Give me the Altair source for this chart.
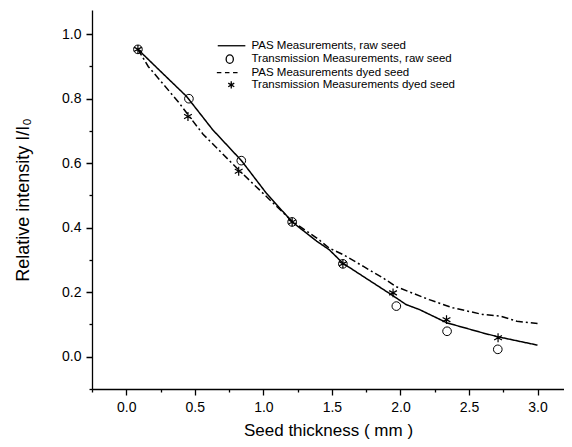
import altair as alt
import pandas as pd

# Series names
s_raw_pas = "PAS Measurements, raw seed"
s_raw_tr = "Transmission Measurements, raw seed"
s_dyed_pas = "PAS Measurements dyed seed"
s_dyed_tr = "Transmission Measurements dyed seed"
series_order = [s_raw_pas, s_raw_tr, s_dyed_pas, s_dyed_tr]

pas_raw_x = [0.085, 0.24, 0.44, 0.63, 0.84, 1.02, 1.21, 1.39, 1.48, 1.58, 1.75, 1.95, 2.04, 2.14, 2.34, 2.60, 2.71, 3.00]
pas_raw_y = [0.953, 0.889, 0.807, 0.704, 0.608, 0.508, 0.418, 0.358, 0.332, 0.290, 0.243, 0.188, 0.162, 0.146, 0.105, 0.074, 0.062, 0.036]

pas_dyed_x = [0.085, 0.16, 0.38, 0.46, 0.56, 0.83, 0.97, 1.21, 1.39, 1.48, 1.58, 1.73, 1.87, 1.97, 2.21, 2.38, 2.60, 2.73, 2.85, 3.00]
pas_dyed_y = [0.953, 0.90, 0.79, 0.745, 0.69, 0.575, 0.518, 0.42, 0.368, 0.337, 0.317, 0.28, 0.245, 0.217, 0.177, 0.152, 0.131, 0.126, 0.11, 0.103]

# Transmission measurements (markers)
tr_raw_x = [0.085, 0.457, 0.839, 1.21, 1.58, 1.97, 2.34, 2.71]
tr_raw_y = [0.953, 0.800, 0.608, 0.418, 0.288, 0.157, 0.079, 0.023]
tr_dyed_x = [0.085, 0.45, 0.82, 1.21, 1.58, 1.946, 2.336, 2.712]
tr_dyed_y = [0.953, 0.745, 0.575, 0.418, 0.288, 0.198, 0.115, 0.059]

# Axis tick values (major + minor)
x_ticks = [-0.25, 0.0, 0.25, 0.5, 0.75, 1.0, 1.25, 1.5, 1.75, 2.0, 2.25, 2.5, 2.75, 3.0]
y_ticks = [-0.1, 0.0, 0.1, 0.2, 0.3, 0.4, 0.5, 0.6, 0.7, 0.8, 0.9, 1.0]

FONT = "Liberation Sans"

lines_df = pd.concat([
    pd.DataFrame({"x": pas_raw_x, "y": pas_raw_y, "series": s_raw_pas, "o": range(len(pas_raw_x))}),
    pd.DataFrame({"x": pas_dyed_x, "y": pas_dyed_y, "series": s_dyed_pas, "o": range(len(pas_dyed_x))}),
])
raw_df = pd.DataFrame({"x": tr_raw_x, "y": tr_raw_y, "series": s_raw_tr})
dyed_df = pd.DataFrame({"x": tr_dyed_x, "y": tr_dyed_y, "series": s_dyed_tr})
markers_df = pd.concat([raw_df, dyed_df])

x_scale = alt.Scale(domain=[-0.25, 3.193], nice=False, zero=False)
y_scale = alt.Scale(domain=[-0.1, 1.075], nice=False, zero=False)

x_axis = alt.Axis(
    values=x_ticks,
    labelExpr="abs(round(datum.value*4)) % 2 == 0 ? format(datum.value, '.1f') : ''",
    tickDash={"condition": {"test": "abs(round(datum.value*4)) % 2 != 0", "value": [3, 20]}, "value": [1, 0]},
    tickSize=6, labelPadding=5, titlePadding=8, titleFontSize=17, grid=False,
    labelOverlap=False, labelFlush=False,
)
y_axis = alt.Axis(
    values=y_ticks,
    labelExpr="abs(round(datum.value*10)) % 2 == 0 ? format(datum.value, '.1f') : ''",
    tickDash={"condition": {"test": "abs(round(datum.value*10)) % 2 != 0", "value": [3, 20]}, "value": [1, 0]},
    tickSize=6, labelPadding=5, titlePadding=29, grid=False,
    labelOverlap=False, labelFlush=False,
)

X = alt.X("x:Q", scale=x_scale, axis=x_axis, title="Seed thickness ( mm )")
Y = alt.Y("y:Q", scale=y_scale, axis=y_axis, title="Relative intensity I/I₀")

lines = alt.Chart(lines_df).mark_line(color="black", strokeWidth=1.5).encode(
    x=X, y=Y,
    order="o:Q",
    strokeDash=alt.StrokeDash(
        "series:N",
        scale=alt.Scale(domain=[s_raw_pas, s_dyed_pas], range=[[1, 0], [7, 3, 2, 3]]),
        legend=None,
    ),
)

circles = alt.Chart(raw_df).mark_point(
    shape="circle", filled=False, color="black", size=75, strokeWidth=1, opacity=1
).encode(x=X, y=Y)

star_path = "M0,-1V1M-0.87,-0.5L0.87,0.5M-0.87,0.5L0.87,-0.5"
stars = alt.Chart(dyed_df).mark_point(
    shape=star_path, filled=False, color="black", size=80, strokeWidth=1.2, opacity=1
).encode(x=X, y=Y)

# Legend symbols (custom paths, drawn only in the legend)
leg_line = "M-8,0H1.2"
leg_o = "M-5.2,0A1.2,1.4 0 1,0 -2.8,0A1.2,1.4 0 1,0 -5.2,0"
leg_dash = "M-8.3,0H-6.8M-5.6,0H-4.1M-2.9,0H-1.4"
leg_star = "M-3.5,-1.2V1.2M-4.5,-0.6L-2.5,0.6M-4.5,0.6L-2.5,-0.6"

legend_layer = alt.Chart(markers_df).transform_filter("false").mark_point(
    filled=False, color="black", opacity=1
).encode(
    x=X, y=Y,
    shape=alt.Shape(
        "series:N",
        scale=alt.Scale(domain=series_order, range=[leg_line, leg_o, leg_dash, leg_star]),
        legend=alt.Legend(
            title=None, orient="none", legendX=144, legendY=30,
            labelFont=FONT, labelFontSize=11.5, labelColor="black",
            symbolSize=36, symbolStrokeWidth=1.3, symbolStrokeColor="black",
            symbolFillColor="transparent", labelOffset=4, rowPadding=-0.6,
            labelLimit=400,
        ),
    ),
)

chart = alt.layer(lines, circles, stars, legend_layer).properties(
    width=472, height=379,
    autosize=alt.AutoSizeParams(type="none"),
    padding={"left": 84, "top": 2, "right": 0, "bottom": 50},
).configure_view(stroke=None).configure_axis(
    domainColor="black", domainWidth=1.3, tickColor="black", tickWidth=1.3,
    labelColor="black", titleColor="black",
    labelFont=FONT, titleFont=FONT, labelFontSize=14, titleFontSize=18,
    titleFontWeight="normal",
)

chart.save("out.html", embed_options={"renderer": "svg", "actions": False})
